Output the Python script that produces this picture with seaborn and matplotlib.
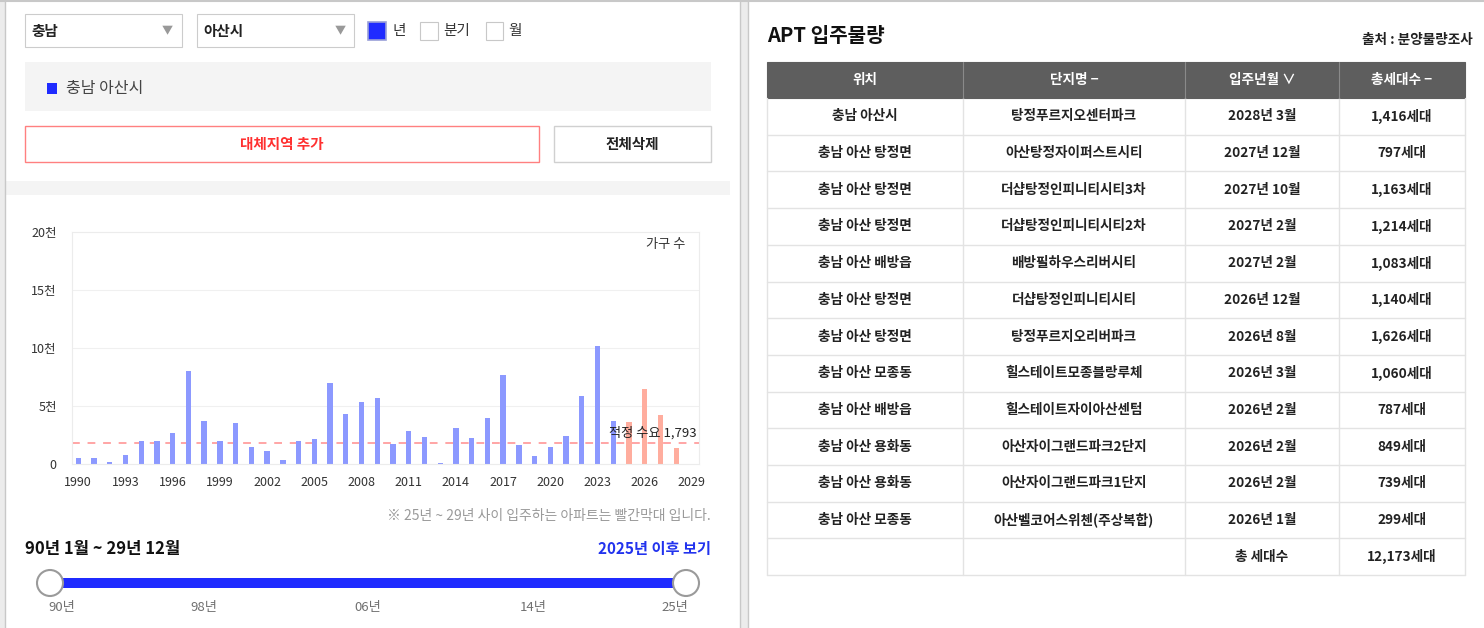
import pandas as pd
import seaborn as sns
import matplotlib.pyplot as plt
from matplotlib.patches import Rectangle, Circle

# ---- data ----
years = list(range(1990, 2030))
supply = [480, 480, 200, 800, 1950, 2000, 2670, 7980, 3700, 1950,
          3520, 1430, 1150, 320, 2010, 2120, 6940, 4300, 5310, 5710,
          1750, 2870, 2350, 110, 3100, 2270, 3990, 7690, 1640, 720,
          1430, 2440, 5840, 10180, 3670, 3600, 6500, 4257, 1416, 0]
demand = 1793
future_from = 2025

y_ticks = [0, 5000, 10000, 15000, 20000]
y_tick_labels = ['0', '5천', '10천', '15천', '20천']
slider_labels = ['90년', '98년', '06년', '14년', '25년']

headers = ['위치', '단지명 −', '입주년월 ∨', '총세대수 −']
locations = ['충남 아산시', '충남 아산 탕정면', '충남 아산 탕정면', '충남 아산 탕정면',
             '충남 아산 배방읍', '충남 아산 탕정면', '충남 아산 탕정면', '충남 아산 모종동',
             '충남 아산 배방읍', '충남 아산 용화동', '충남 아산 용화동', '충남 아산 모종동']
complexes = ['탕정푸르지오센터파크', '아산탕정자이퍼스트시티', '더샵탕정인피니티시티3차',
             '더샵탕정인피니티시티2차', '배방필하우스리버시티', '더샵탕정인피니티시티',
             '탕정푸르지오리버파크', '힐스테이트모종블랑루체', '힐스테이트자이아산센텀',
             '아산자이그랜드파크2단지', '아산자이그랜드파크1단지', '아산벨코어스위첸(주상복합)']
move_in = ['2028년 3월', '2027년 12월', '2027년 10월', '2027년 2월', '2027년 2월',
           '2026년 12월', '2026년 8월', '2026년 3월', '2026년 2월', '2026년 2월',
           '2026년 2월', '2026년 1월']
units = [1416, 797, 1163, 1214, 1083, 1140, 1626, 1060, 787, 849, 739, 299]

BLUE_BAR = '#8c99ff'
RED_BAR = '#ffad9e'
BLUE = '#1f2bff'
TEXT = '#333333'

sns.set_theme(style="white")
plt.rcParams['font.family'] = ['Noto Sans CJK KR', 'DejaVu Sans']

W, H = 1484, 628
fig = plt.figure(figsize=(W / 100, H / 100), dpi=100)
fig.patch.set_facecolor('white')

# overlay axes in pixel coordinates for the page layout
ui = fig.add_axes([0, 0, 1, 1], zorder=0)
ui.set_xlim(0, W)
ui.set_ylim(H, 0)
ui.axis('off')


def box(x0, y0, x1, y1, fc='white', ec='#cccccc', lw=0.8, z=1):
    ui.add_patch(Rectangle((x0, y0), x1 - x0, y1 - y0, facecolor=fc,
                           edgecolor=ec, linewidth=lw, zorder=z))


def txt(x, y, s, size=10, color=TEXT, ha='left', weight='normal', z=5):
    ui.text(x, y, s, fontsize=size, color=color, ha=ha, va='center',
            fontweight=weight, zorder=z)


# page frame
box(0, 0, 5, H, fc='#ececec', ec='none', lw=0)
box(740, 0, 748, H, fc='#ececec', ec='none', lw=0)
ui.plot([5, 5], [0, H], color='#c8c8c8', lw=1)
ui.plot([740, 740], [0, H], color='#c8c8c8', lw=1)
ui.plot([748, 748], [0, H], color='#c8c8c8', lw=1)
ui.plot([0, W], [1, 1], color='#c8c8c8', lw=1.5)

# ---- left panel controls ----
box(25, 14, 182, 47)
txt(31, 31, '충남', 10.5, '#222222', weight='bold')
txt(167, 31, '▼', 8, '#999999', ha='center')
box(197, 14, 354, 47)
txt(203, 31, '아산시', 10.5, '#222222', weight='bold')
txt(340, 31, '▼', 8, '#999999', ha='center')

box(368, 22, 386, 40, fc=BLUE, ec='#9aa0d8', lw=1.2)
txt(392, 31, '년', 10.5)
box(420, 22, 438, 40, ec='#c8c8c8')
txt(443, 31, '분기', 10.5)
box(486, 22, 503, 40, ec='#c8c8c8')
txt(508, 31, '월', 10.5)

box(25, 62, 711, 111, fc='#f4f4f4', ec='none', lw=0)
box(47, 83, 57, 94, fc=BLUE, ec='none', lw=0)
txt(66, 88, '충남 아산시', 11.5, '#444444')

box(25, 126, 539, 162, ec='#ff8080', lw=1)
txt(282, 144, '대체지역 추가', 10.5, '#ff3030', ha='center', weight='bold')
box(554, 126, 711, 162, ec='#d0d0d0', lw=1)
txt(632, 144, '전체삭제', 10.5, '#222222', ha='center', weight='bold')

box(5, 181, 730, 195, fc='#f4f4f4', ec='none', lw=0)

# ---- bar chart ----
df = pd.DataFrame({
    'year': [str(y) for y in years],
    'units': supply,
    'period': ['예정' if y >= future_from else '실적' for y in years],
})
ax = fig.add_axes([72 / W, 1 - 464 / H, 627 / W, 232 / H], zorder=2)
sns.barplot(data=df, x='year', y='units', hue='period',
            order=[str(y) for y in years], hue_order=['실적', '예정'],
            palette={'실적': BLUE_BAR, '예정': RED_BAR}, dodge=False,
            width=0.34, saturation=1, linewidth=0, legend=False, ax=ax)
ax.axhline(demand, color='#ffa5a5', lw=1.4, ls=(0, (4, 4)), zorder=0.5)
ax.set_xlim(-0.4, 39.45)
ax.set_ylim(0, 20000)
ax.set_yticks(y_ticks)
ax.set_yticklabels(y_tick_labels)
ax.set_xticks(range(0, len(years), 3))
ax.set_xticklabels([str(y) for y in years[::3]])
ax.tick_params(axis='both', length=0, labelsize=9, colors=TEXT)
ax.tick_params(axis='y', pad=11)
ax.tick_params(axis='x', pad=9)
ax.set_xlabel('')
ax.set_ylabel('')
ax.grid(axis='y', color='#f0f0f0', lw=0.8)
ax.set_axisbelow(True)
for sp in ax.spines.values():
    sp.set_color('#ececec')
    sp.set_linewidth(0.8)
ax.text(0.978, 0.947, '가구 수', transform=ax.transAxes, ha='right',
        va='center', fontsize=9.5, color=TEXT)
ax.text(39.3, demand + 880, f'적정 수요 {demand:,}', ha='right', va='center',
        fontsize=9.5, color='#222222')

txt(711, 516, '※ 25년 ~ 29년 사이 입주하는 아파트는 빨간막대 입니다.', 10,
    '#9a9a9a', ha='right')

# ---- period slider ----
txt(25, 549, '90년 1월 ~ 29년 12월', 12, '#111111', weight='bold')
txt(711, 549, '2025년 이후 보기', 11, '#2233ee', ha='right', weight='bold')
box(50, 578, 686, 588, fc=BLUE, ec='none', lw=0)
for cx in (50, 686):
    ui.add_patch(Circle((cx, 583), 13, facecolor='white', edgecolor='#9a9a9a',
                        lw=1.5, zorder=3))
for lx, lab in zip([62, 204, 368, 533, 675], slider_labels):
    txt(lx, 607, lab, 9.5, '#707070', ha='center')

# ---- right panel: table ----
txt(767, 36, 'APT 입주물량', 14.5, '#111111', weight='bold')
txt(1473, 40, '출처 : 분양물량조사', 9.8, '#222222', ha='right', weight='bold')

col_x = [767, 963, 1185, 1339, 1465]
top, head_h, row_h = 62, 36, 36.7
box(col_x[0], top, col_x[-1], top + head_h, fc='#5e5e5e', ec='#5e5e5e', lw=0.8)
for i, h in enumerate(headers):
    cx = (col_x[i] + col_x[i + 1]) / 2
    txt(cx, top + head_h / 2, h, 9.8, 'white', ha='center', weight='bold')
    if i > 0:
        ui.plot([col_x[i]] * 2, [top, top + head_h], color='#8a8a8a', lw=0.8, zorder=3)

rows = [(a, b, c, f'{u:,}세대') for a, b, c, u in zip(locations, complexes, move_in, units)]
rows.append(('', '', '총 세대수', f'{sum(units):,}세대'))
y0 = top + head_h
bottom = y0 + row_h * len(rows)
for r, row in enumerate(rows):
    yc = y0 + row_h * (r + 0.5)
    for i, s in enumerate(row):
        cx = (col_x[i] + col_x[i + 1]) / 2
        txt(cx, yc, s, 9.8, '#222222', ha='center', weight='bold')
    ui.plot([col_x[0], col_x[-1]], [y0 + row_h * (r + 1)] * 2, color='#e3e3e3',
            lw=1, zorder=2)
for x in col_x:
    ui.plot([x, x], [y0, bottom], color='#e3e3e3', lw=1, zorder=2)

fig.savefig('out.png', dpi=100, facecolor='white')
